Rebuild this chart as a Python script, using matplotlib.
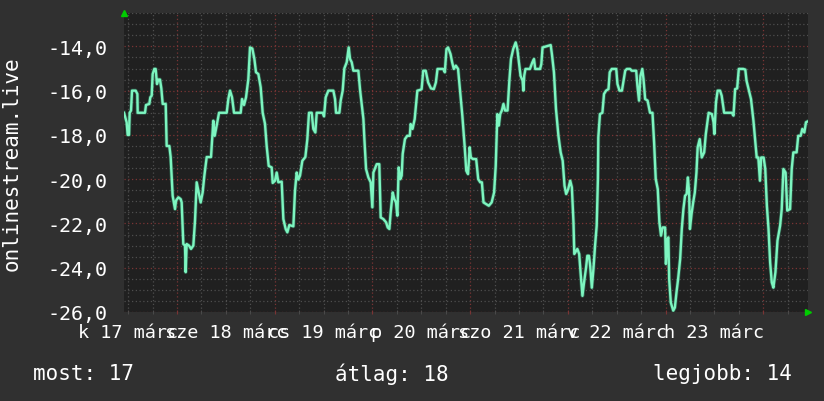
import matplotlib
matplotlib.use("Agg")
import matplotlib.pyplot as plt
import numpy as np
from matplotlib.ticker import FixedLocator, MultipleLocator

# ---- data (hours since start of window, temperature) ----
hours = [
    0.0, 0.65, 0.9, 1.23, 1.39, 1.72, 1.97, 2.87, 3.28, 3.36, 5.16, 5.4, 6.22, 6.47, 6.8,
    7.04, 7.45, 7.78, 8.1, 8.43, 8.84, 9.17, 9.5, 10.24, 10.48, 11.14, 11.46, 11.95, 12.53,
    12.77, 13.35, 13.92, 14.16, 14.57, 14.98, 15.15, 15.39, 15.97, 16.46, 17.03, 17.44,
    17.85, 18.34, 18.83, 19.32, 19.73, 20.31, 21.37, 21.94, 22.27, 22.76, 23.34, 25.22,
    25.63, 26.04, 26.53, 27.02, 28.66, 28.99, 29.48, 29.97, 30.54, 30.95, 31.52, 32.02,
    32.42, 33.0, 33.57, 34.06, 34.63, 35.04, 35.54, 36.27, 36.52, 37.09, 37.5, 37.91,
    38.73, 39.14, 39.71, 40.12, 40.61, 41.6, 42.0, 42.41, 42.82, 43.23, 43.8, 44.54,
    45.03, 45.44, 46.1, 46.5, 47.0, 47.33, 48.8, 49.13, 49.54, 50.19, 51.42, 51.83,
    52.08, 52.9, 53.22, 53.71, 54.12, 54.7, 55.19, 55.52, 55.93, 56.33, 56.74, 57.56,
    58.0, 58.8, 59.0, 59.45, 60.02, 60.59, 61.0, 61.25, 62.07, 62.7, 63.05, 63.7, 64.37,
    64.77, 65.18, 65.5, 66.0, 66.4, 66.8, 67.14, 67.46, 67.87, 68.2, 68.45, 69.0, 69.57,
    70.2, 70.4, 70.87, 71.4, 72.05, 72.7, 73.1, 73.5, 74.1, 74.7, 75.4, 76.1, 76.6, 77.0,
    78.4, 78.8, 79.2, 79.6, 80.2, 80.6, 81.0, 81.5, 82.05, 82.6, 83.1, 83.66, 84.07,
    84.5, 84.9, 85.2, 85.7, 86.5, 87.0, 87.5, 87.9, 88.3, 88.9, 89.6, 90.3, 90.9, 91.3,
    91.7, 92.05, 92.4, 92.8, 93.2, 93.6, 94.2, 94.65, 95.05, 95.6, 96.2, 96.6, 97.0,
    97.4, 97.9, 98.1, 98.3, 98.6, 99.7, 100.3, 100.7, 101.0, 102.2, 102.5, 102.8, 104.2,
    104.8, 105.1, 105.6, 106.1, 106.7, 107.25, 107.75, 108.2, 108.6, 109.1, 109.6,
    110.0, 110.4, 110.6, 111.35, 111.8, 112.2, 112.6, 113.0, 113.5, 113.8, 114.2, 114.5,
    114.9, 115.3, 115.7, 116.1, 116.4, 116.5, 116.9, 117.5, 117.9, 118.4, 119.0, 119.3,
    119.8, 120.9, 121.2, 121.7, 122.3, 122.7, 123.1, 123.5, 124.3, 124.7, 125.8, 126.1,
    126.5, 126.85, 127.3, 127.6, 128.0, 128.6, 129.2, 129.8, 130.2, 130.6, 131.1, 131.5,
    131.9, 132.3, 132.9, 133.1, 133.5, 133.7, 133.9, 134.3, 134.9, 135.3, 135.7, 136.1,
    136.6, 137.0, 137.4, 137.8, 138.2, 138.5, 138.8, 139.0, 139.4, 139.8, 140.2, 140.6,
    140.9, 141.4, 141.9, 142.5, 142.9, 143.6, 144.4, 144.8, 145.0, 145.4, 145.8, 146.4,
    146.8, 147.4, 149.3, 149.7, 150.1, 150.6, 151.0, 152.1, 152.6, 152.9, 153.5, 154.0,
    154.6, 155.0, 155.4, 155.8, 156.2, 156.5, 157.1, 157.5, 157.9, 158.3, 158.7, 159.1,
    159.5, 160.0, 160.5, 161.15, 161.55, 161.95, 162.5, 162.9, 163.6, 164.0, 164.4,
    165.2, 165.6, 166.2, 166.6, 167.1, 167.5, 167.8,
]
temps = [
    -17.0, -17.43, -18.0, -18.0, -17.0, -16.9, -16.0, -16.0, -16.15, -17.0, -17.0, -16.65,
    -16.6, -16.3, -16.23, -15.25, -15.02, -15.02, -15.7, -15.5, -15.5, -15.9, -16.6, -16.6,
    -18.5, -18.5, -19.0, -20.75, -21.35, -20.97, -20.82, -20.9, -21.05, -22.93, -23.0,
    -24.2, -22.93, -23.0, -23.15, -23.0, -21.88, -20.14, -20.6, -21.05, -20.6, -19.85,
    -19.0, -19.0, -17.36, -18.04, -17.58, -17.0, -17.0, -16.38, -16.0, -16.3, -17.0,
    -17.0, -16.38, -16.65, -16.3, -15.48, -14.05, -14.1, -14.57, -15.17, -15.25, -15.85,
    -17.0, -17.5, -18.5, -19.4, -19.47, -20.17, -20.07, -19.7, -20.14, -20.11, -21.8,
    -22.25, -22.4, -22.07, -22.13, -20.52, -19.7, -20.02, -19.84, -19.17, -19.0, -18.19,
    -17.0, -17.0, -17.73, -17.89, -17.0, -17.0, -17.16, -16.3, -16.0, -16.0, -16.38,
    -17.0, -17.0, -16.45, -16.0, -15.0, -14.72, -14.05, -14.57, -14.72, -15.1, -15.1,
    -15.1, -16.0, -17.28, -18.04, -19.54, -19.92, -20.14, -21.27, -19.7, -19.32, -19.32,
    -21.73, -21.8, -21.95, -22.18, -22.25, -21.5, -20.6, -20.9, -21.05, -21.65, -19.47,
    -20.0, -19.84, -18.86, -18.19, -18.04, -18.04, -17.51, -17.73, -17.28, -16.0, -15.97,
    -15.93, -15.1, -15.1, -15.63, -15.9, -15.93, -15.63, -15.02, -15.02, -15.17, -14.12,
    -14.05, -14.35, -14.72, -15.02, -14.87, -15.02, -16.15, -17.13, -18.49, -19.62,
    -19.77, -18.56, -19.02, -19.09, -19.09, -20.0, -20.14, -20.14, -21.05, -21.12, -21.2,
    -21.05, -20.6, -19.4, -17.06, -17.58, -17.06, -16.9, -16.6, -16.9, -16.9, -15.55,
    -14.57, -14.12, -13.82, -14.12, -14.72, -15.33, -15.55, -16.0, -15.33, -15.02,
    -15.02, -14.72, -14.57, -15.02, -15.02, -14.8, -14.05, -13.97, -13.94, -14.35,
    -15.17, -16.83, -18.04, -18.79, -19.17, -20.3, -20.67, -20.45, -20.07, -20.37,
    -21.95, -23.38, -23.15, -23.38, -24.36, -25.27, -24.66, -23.98, -23.46, -23.46,
    -23.91, -24.9, -24.06, -23.0, -22.1, -19.99, -18.11, -17.06, -17.0, -16.15, -16.0,
    -15.93, -15.17, -15.02, -15.02, -15.7, -16.0, -16.0, -15.55, -15.1, -15.02, -15.02,
    -15.1, -15.1, -15.78, -16.45, -15.33, -15.02, -15.48, -16.38, -16.45, -17.0, -17.0,
    -18.34, -19.99, -20.45, -21.95, -22.55, -22.18, -22.18, -23.83, -22.7, -22.63,
    -24.51, -25.57, -25.94, -25.8, -25.11, -24.51, -23.6, -22.25, -21.35, -20.75,
    -20.67, -19.92, -20.6, -22.25, -21.57, -21.05, -20.6, -19.7, -18.56, -18.19, -19.02,
    -18.79, -17.96, -17.0, -17.06, -17.43, -17.96, -16.53, -16.0, -16.0, -16.23, -17.0,
    -17.0, -17.13, -15.93, -15.9, -15.02, -15.02, -15.05, -15.55, -16.0, -16.38, -17.36,
    -18.19, -19.02, -19.02, -20.07, -19.02, -19.02, -19.54, -21.2, -22.25, -23.76,
    -24.66, -24.9, -24.2, -22.78, -22.1, -21.35, -19.54, -19.7, -21.42, -21.35, -19.54,
    -18.79, -18.79, -18.04, -18.04, -17.73, -17.89, -17.43, -17.4,
]

day_label_hours = [1, 25, 49, 73, 97, 121, 145]
day_labels = ["k 17 márc", "sze 18 márc", "cs 19 márc", "p 20 márc",
              "szo 21 márc", "v 22 márc", "h 23 márc"]
ytick_values = [-26, -24, -22, -20, -18, -16, -14]
ytick_labels = [f"{v:.1f}".replace(".", ",") for v in ytick_values]
y_title = "onlinestream.live"
legend_items = ["most: 17", "átlag: 18", "legjobb: 14"]

# ---- style ----
BACK = "#303030"
CANVAS = "#202020"
MINOR = "#4e4e4e"
MAJOR = "#7a3434"
LINE = "#7df5c0"
TXT = "#ffffff"
FONT = "DejaVu Sans Mono"

fig = plt.figure(figsize=(8.24, 4.02), dpi=100, facecolor=BACK)
ax = fig.add_axes([124 / 824, 1 - 313 / 402, 684 / 824, 299.5 / 402])
ax.set_facecolor(CANVAS)

ax.plot(hours, temps, color="#3f9f78", lw=2.8, alpha=0.45, zorder=3)
ax.plot(hours, temps, color=LINE, lw=1.7, zorder=4)

ax.set_xlim(0, 168)
ax.set_ylim(-26, -12.47)

# grid
ax.xaxis.set_major_locator(FixedLocator(np.arange(13, 168, 24)))
ax.xaxis.set_minor_locator(FixedLocator(np.arange(1, 168, 6)))
ax.yaxis.set_major_locator(FixedLocator(ytick_values))
ax.yaxis.set_minor_locator(MultipleLocator(0.5))
ax.grid(which="minor", color=MINOR, lw=0.9, linestyle=(0, (1, 2)), zorder=1)
ax.grid(which="major", color=MAJOR, lw=0.9, linestyle=(0, (1, 2)), zorder=2)
ax.set_axisbelow(True)

ax.set_yticklabels(ytick_labels)
ax.set_xticklabels([])
ax.tick_params(axis="y", which="both", length=0, pad=12, labelsize=14.4, labelcolor=TXT)
ax.tick_params(axis="x", which="major", length=3, color=MAJOR, direction="inout")
ax.tick_params(axis="x", which="minor", length=3, color=MINOR, direction="inout")
for lab in ax.get_yticklabels():
    lab.set_fontfamily(FONT)

for s in ax.spines.values():
    s.set_visible(False)

# day labels centred at noon
for h, lab in zip(day_label_hours, day_labels):
    ax.text(h, -0.082, lab, transform=ax.get_xaxis_transform(), ha="center", va="baseline",
            fontsize=13.3, color=TXT, family=FONT)

# axis arrows
ax.plot([0], [1.0], marker="^", ms=5, color="#00cc00", transform=ax.transAxes,
        clip_on=False, zorder=6)
ax.plot([1.0], [0.0], marker=">", ms=5, color="#00cc00", transform=ax.transAxes,
        clip_on=False, zorder=6)

# y title
fig.text(12 / 824, 1 - 164 / 402, y_title, rotation=90, ha="center", va="center",
         fontsize=15, color=TXT, family=FONT)

# legend line
fig.text(33 / 824, 1 - 374 / 402, legend_items[0], ha="left", va="center",
         fontsize=15, color=TXT, family=FONT)
fig.text(392 / 824, 1 - 374 / 402, legend_items[1], ha="center", va="center",
         fontsize=15, color=TXT, family=FONT)
fig.text(792 / 824, 1 - 374 / 402, legend_items[2], ha="right", va="center",
         fontsize=15, color=TXT, family=FONT)

fig.savefig("out.png", dpi=100, facecolor=BACK)
